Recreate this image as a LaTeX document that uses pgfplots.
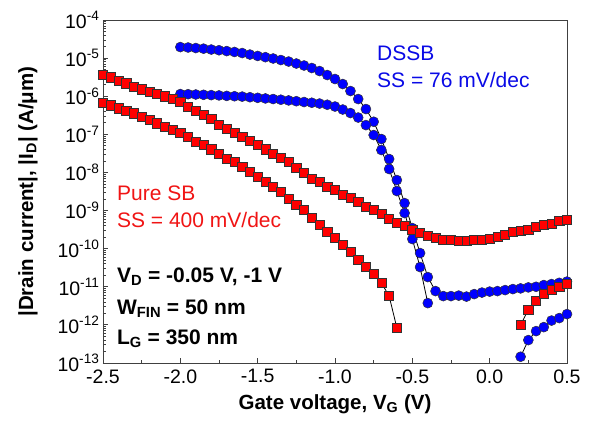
\documentclass[border=0pt]{standalone}
\usepackage{fontspec}
\setmainfont{Liberation Sans}
\usepackage{pgfplots}
\usepackage{pgfplotstable}
\pgfplotsset{compat=1.18}

\definecolor{dssbblue}{RGB}{0,0,255}
\definecolor{sbred}{RGB}{255,0,0}
\definecolor{txtblue}{RGB}{10,10,230}
\definecolor{txtred}{RGB}{240,20,20}

% DSSB, higher on-current branch
\pgfplotstableread{
vg id
-2.00 1.95e-5
-1.95 1.90e-5
-1.90 1.84e-5
-1.85 1.77e-5
-1.80 1.68e-5
-1.75 1.61e-5
-1.70 1.53e-5
-1.65 1.45e-5
-1.60 1.36e-5
-1.55 1.24e-5
-1.50 1.14e-5
-1.45 1.06e-5
-1.40 9.77e-6
-1.35 8.91e-6
-1.30 8.14e-6
-1.25 7.22e-6
-1.20 6.40e-6
-1.15 5.50e-6
-1.10 4.58e-6
-1.05 3.60e-6
-1.00 2.83e-6
-0.95 2.09e-6
-0.90 1.37e-6
-0.85 8.45e-7
-0.80 4.61e-7
-0.75 2.14e-7
-0.70 7.53e-8
-0.65 2.25e-8
-0.60 6.32e-9
-0.55 1.57e-9
-0.50 3.47e-10
-0.45 7.67e-11
-0.40 1.80e-11
-0.35 7.71e-12
-0.30 5.70e-12
-0.25 5.70e-12
-0.20 5.87e-12
-0.15 5.53e-12
-0.10 6.43e-12
-0.05 7.05e-12
0.00 7.48e-12
0.05 7.71e-12
0.10 8.19e-12
0.15 8.71e-12
0.20 9.08e-12
0.25 9.64e-12
0.30 1.00e-11
0.35 1.11e-11
0.40 1.18e-11
0.45 1.27e-11
0.50 1.37e-11
}\dssbA

% DSSB, lower on-current branch
\pgfplotstableread{
vg id
-2.00 1.14e-6
-1.95 1.13e-6
-1.90 1.11e-6
-1.85 1.09e-6
-1.80 1.07e-6
-1.75 1.05e-6
-1.70 1.02e-6
-1.65 1.00e-6
-1.60 9.77e-7
-1.55 9.42e-7
-1.50 9.08e-7
-1.45 8.75e-7
-1.40 8.45e-7
-1.35 8.10e-7
-1.30 7.76e-7
-1.25 7.40e-7
-1.20 7.05e-7
-1.15 6.75e-7
-1.10 6.43e-7
-1.05 5.98e-7
-1.00 5.37e-7
-0.95 4.48e-7
-0.90 3.62e-7
-0.85 2.76e-7
-0.80 1.75e-7
-0.75 9.59e-8
-0.70 3.88e-8
-0.65 1.23e-8
-0.60 3.25e-9
-0.55 8.59e-10
-0.50 1.79e-10
-0.45 3.29e-11
-0.40 3.73e-12
}\dssbB

\pgfplotstableread{
vg id
0.20 1.46e-13
0.25 3.99e-13
0.30 6.87e-13
0.35 8.75e-13
0.40 1.30e-12
0.45 1.51e-12
0.50 1.92e-12
}\dssbBtail

% Pure SB, higher branch
\pgfplotstableread{
vg id
-2.50 3.60e-6
-2.45 3.13e-6
-2.40 2.58e-6
-2.35 2.18e-6
-2.30 1.80e-6
-2.25 1.52e-6
-2.20 1.31e-6
-2.15 1.14e-6
-2.10 9.93e-7
-2.05 8.45e-7
-2.00 7.05e-7
-1.95 5.37e-7
-1.90 4.09e-7
-1.85 3.31e-7
-1.80 2.52e-7
-1.75 1.75e-7
-1.70 1.38e-7
-1.65 1.08e-7
-1.60 8.65e-8
-1.55 6.79e-8
-1.50 5.24e-8
-1.45 4.04e-8
-1.40 3.17e-8
-1.35 2.49e-8
-1.30 1.91e-8
-1.25 1.30e-8
-1.20 9.93e-9
-1.15 7.00e-9
-1.10 5.60e-9
-1.05 4.22e-9
-1.00 3.45e-9
-0.95 2.63e-9
-0.90 2.13e-9
-0.85 1.67e-9
-0.80 1.29e-9
-0.75 1.03e-9
-0.70 8.09e-10
-0.65 6.24e-10
-0.60 4.84e-10
-0.55 3.92e-10
-0.50 3.21e-10
-0.45 2.68e-10
-0.40 2.21e-10
-0.35 1.98e-10
-0.30 1.75e-10
-0.25 1.68e-10
-0.20 1.61e-10
-0.15 1.65e-10
-0.10 1.73e-10
-0.05 1.75e-10
0.00 1.86e-10
0.05 2.08e-10
0.10 2.37e-10
0.15 2.73e-10
0.20 2.95e-10
0.25 3.21e-10
0.30 3.69e-10
0.35 4.16e-10
0.40 4.61e-10
0.45 5.30e-10
0.50 5.87e-10
}\sbC

% Pure SB, lower branch
\pgfplotstableread{
vg id
-2.50 6.64e-7
-2.45 5.77e-7
-2.40 4.81e-7
-2.35 4.16e-7
-2.30 3.56e-7
-2.25 2.90e-7
-2.20 2.37e-7
-2.15 1.95e-7
-2.10 1.58e-7
-2.05 1.30e-7
-2.00 1.11e-7
-1.95 8.65e-8
-1.90 6.47e-8
-1.85 5.24e-8
-1.80 4.04e-8
-1.75 3.13e-8
-1.70 2.34e-8
-1.65 1.91e-8
-1.60 1.41e-8
-1.55 1.04e-8
-1.50 7.71e-9
-1.45 5.70e-9
-1.40 4.22e-9
-1.35 3.11e-9
-1.30 2.09e-9
-1.25 1.39e-9
-1.20 1.03e-9
-1.15 6.35e-10
-1.10 4.16e-10
-1.05 2.81e-10
-1.00 1.98e-10
-0.95 1.24e-10
-0.90 8.30e-11
-0.85 5.24e-11
-0.80 3.35e-11
-0.75 2.15e-11
-0.70 1.27e-11
-0.65 5.70e-12
-0.60 8.39e-13
}\sbD

\pgfplotstableread{
vg id
0.20 9.89e-13
0.25 2.52e-12
0.30 4.27e-12
0.35 6.43e-12
0.40 8.19e-12
0.45 9.82e-12
0.50 1.20e-11
}\sbDtail

\begin{document}
\begin{tikzpicture}
\path[use as bounding box] (-103pt,-60pt) rectangle (486pt,363pt);
\begin{axis}[
    at={(0pt,0pt)}, anchor=south west,
    scale only axis,
    width=464pt, height=343pt,
    xmin=-2.5, xmax=0.5,
    ymin=1e-13, ymax=1e-4,
    ymode=log, log basis y=10,
    xtick={-2.5,-2,-1.5,-1,-0.5,0,0.5},
    xticklabels={-2.5,-2.0,-1.5,-1.0,-0.5,0.0,0.5},
    minor x tick num=1,
    yticklabel={10\textsuperscript{\pgfmathparse{int(round(\tick))}\pgfmathresult}},
    tick align=inside,
    xtick pos=bottom, ytick pos=left,
    major tick length=5.5pt, minor tick length=3.5pt,
    axis line style={black!75, line width=0.9pt},
    every tick/.style={black!75, line width=0.8pt},
    tick label style={font=\fontsize{19.5}{22}\selectfont},
    xticklabel style={yshift=-3pt},
    xlabel={Gate voltage, V\textsubscript{G} (V)},
    ylabel={|Drain current|, |I\textsubscript{D}| (A/μm)},
    every axis x label/.style={at={(axis description cs:0.5,-0.135)}, anchor=base,
        font=\bfseries\fontsize{20.5}{24}\selectfont},
    every axis y label/.style={at={(axis description cs:-0.1616,0.5)}, rotate=90,
        anchor=center, font=\bfseries\fontsize{20.5}{24}\selectfont},
    clip=false,
]

% connecting lines
\addplot[black, line width=0.8pt] table[x=vg, y=id] {\dssbA};
\addplot[black, line width=0.8pt] table[x=vg, y=id] {\dssbB};
\addplot[black, line width=0.8pt] table[x=vg, y=id] {\dssbBtail};
\addplot[black, line width=0.8pt] table[x=vg, y=id] {\sbC};
\addplot[black, line width=0.8pt] table[x=vg, y=id] {\sbD};
\addplot[black, line width=0.8pt] table[x=vg, y=id] {\sbDtail};

% DSSB markers
\addplot[only marks, mark=*, mark size=5pt, mark options={fill=dssbblue, draw=black!80, line width=0.5pt}] table[x=vg, y=id] {\dssbA};
\addplot[only marks, mark=*, mark size=5pt, mark options={fill=dssbblue, draw=black!80, line width=0.5pt}] table[x=vg, y=id] {\dssbB};
\addplot[only marks, mark=*, mark size=5pt, mark options={fill=dssbblue, draw=black!80, line width=0.5pt}] table[x=vg, y=id] {\dssbBtail};

% Pure SB markers
\addplot[only marks, mark=square*, mark size=4.6pt, mark options={fill=sbred, draw=black!80, line width=0.5pt}] table[x=vg, y=id] {\sbC};
\addplot[only marks, mark=square*, mark size=4.6pt, mark options={fill=sbred, draw=black!80, line width=0.5pt}] table[x=vg, y=id] {\sbD};
\addplot[only marks, mark=square*, mark size=4.6pt, mark options={fill=sbred, draw=black!80, line width=0.5pt}] table[x=vg, y=id] {\sbDtail};

% annotations
\begin{scope}[every node/.style={anchor=base west, inner sep=0pt, font=\fontsize{21}{25}\selectfont}]
\node[text=txtblue] at (rel axis cs:0.5905,0.882) {DSSB};
\node[text=txtblue] at (rel axis cs:0.5905,0.803) {SS = 76 mV/dec};
\node[text=txtred] at (rel axis cs:0.030,0.474) {Pure SB};
\node[text=txtred] at (rel axis cs:0.030,0.395) {SS = 400 mV/dec};
\node[font=\bfseries\fontsize{21}{25}\selectfont] at (rel axis cs:0.030,0.235) {V\textsubscript{D} = -0.05 V, -1 V};
\node[font=\bfseries\fontsize{21}{25}\selectfont] at (rel axis cs:0.030,0.141) {W\textsubscript{FIN} = 50 nm};
\node[font=\bfseries\fontsize{21}{25}\selectfont] at (rel axis cs:0.030,0.054) {L\textsubscript{G} = 350 nm};
\end{scope}
\end{axis}
\end{tikzpicture}
\end{document}
